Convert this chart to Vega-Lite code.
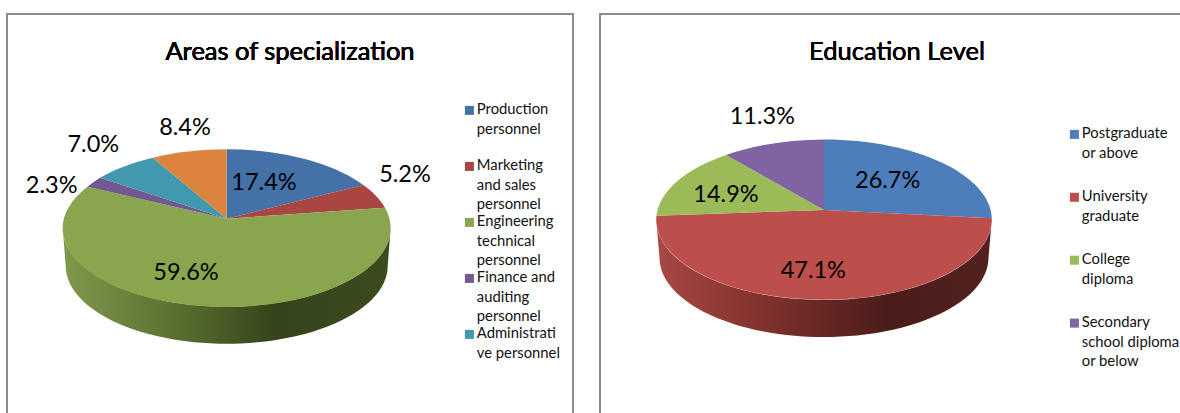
{
"$schema":"https://vega.github.io/schema/vega-lite/v6.json",
"padding":{"left":6,"top":13,"right":0,"bottom":0},
"spacing":25,
"background":"white",
"config":{"view":{"stroke":"#8c8c8c","strokeWidth":2},"text":{"font":"Lato","fontSize":23.5,"color":"#000000"},
"legend":{"orient":"none","symbolType":"square","symbolSize":81,"symbolStrokeWidth":0,"labelFont":"Lato","labelFontSize":14.8,"labelColor":"#111111","labelLimit":200,"labelOffset":0,"padding":0,"title":null,"symbolOpacity":1}},
"resolve":{"scale":{"color":"independent","shape":"independent","x":"independent","y":"independent"},"legend":{"color":"independent"}},
"hconcat":[
{"width":566,"height":410,
"data":{"values":[
{"slice":"Production personnel","part":"a","share":0.174},
{"slice":"Marketing and sales personnel","part":"b","share":0.052},
{"slice":"Engineering technical personnel","part":"c","share":0.596},
{"slice":"Finance and auditing personnel","part":"d","share":0.023},
{"slice":"Administrative personnel","part":"e","share":0.07},
{"slice":"Other personnel","part":"f","share":0.084}]},
"layer":[
{"transform":[{"filter":"datum.part==='c'"}],
"mark":{"type":"point","filled":true,"opacity":1,"size":4,"strokeWidth":0,"shape":"M164,9.3A164,78.7 0 0 1 -164,9.3L-161,47A161,78 0 0 0 161,47Z",
"fill":{"gradient":"linear","x1":0,"y1":0,"x2":1,"y2":0,"stops":[{"offset":0,"color":"#80994c"},{"offset":0.3,"color":"#5f7634"},{"offset":0.65,"color":"#35441a"},{"offset":1,"color":"#3c4a20"}]}},
"encoding":{"x":{"datum":219.7,"type":"quantitative","scale":{"domain":[0,566]},"axis":null},"y":{"datum":204.7,"type":"quantitative","scale":{"domain":[0,410],"reverse":true},"axis":null}}},
{"mark":{"type":"point","filled":true,"opacity":1,"size":4,"strokeWidth":0},
"encoding":{"x":{"datum":219.7,"type":"quantitative","scale":{"domain":[0,566]},"axis":null},"y":{"datum":204.7,"type":"quantitative","scale":{"domain":[0,410],"reverse":true},"axis":null},
"shape":{"field":"part","type":"nominal","legend":null,"scale":{"domain":["a","b","c","d","e","f"],
"range":["M0,0L0,-69.4A164,78.7 0 0 1 136.7,-33.7Z","M0,0L136.7,-33.7A164,78.7 0 0 1 158.3,-11Z","M0,0L158.3,-11A164,78.7 0 1 1 -139.3,-32Z","M0,0L-139.3,-32A164,78.7 0 0 1 -126.7,-41Z","M0,0L-126.7,-41A164,78.7 0 0 1 -74,-61Z","M0,0L-74,-61A164,78.7 0 0 1 0,-69.4Z"]}},
"color":{"field":"slice","type":"nominal","scale":{"domain":["Production personnel","Marketing and sales personnel","Engineering technical personnel","Finance and auditing personnel","Administrative personnel","Other personnel"],"range":["#4471a7","#a94642","#89a54e","#71588f","#4198af","#db843d"]},
"legend":{"values":["Production personnel","Marketing and sales personnel","Engineering technical personnel","Finance and auditing personnel","Administrative personnel"],"legendX":455,"legendY":89,"rowPadding":2,"symbolType":"square",
"labelExpr":"{'Production personnel':['Production','personnel',''],'Marketing and sales personnel':['Marketing','and sales','personnel'],'Engineering technical personnel':['Engineering','technical','personnel'],'Finance and auditing personnel':['Finance and','auditing','personnel'],'Administrative personnel':['Administrati','ve personnel','']}[datum.label]",
"encoding":{"labels":{"lineHeight":{"value":19.3}}}}}}},
{"mark":{"type":"text","fontSize":25.5},"encoding":{"text":{"value":"Areas of specialization"},"x":{"datum":283,"type":"quantitative","scale":{"domain":[0,566]},"axis":null},"y":{"datum":38,"type":"quantitative","scale":{"domain":[0,410],"reverse":true},"axis":null}}},
{"transform":[{"filter":"datum.part==='a'"}],"mark":"text","encoding":{"text":{"field":"share","format":".1%"},"x":{"datum":257,"type":"quantitative","scale":{"domain":[0,566]},"axis":null},"y":{"datum":168.7,"type":"quantitative","scale":{"domain":[0,410],"reverse":true},"axis":null}}},
{"transform":[{"filter":"datum.part==='b'"}],"mark":"text","encoding":{"text":{"field":"share","format":".1%"},"x":{"datum":398,"type":"quantitative","scale":{"domain":[0,566]},"axis":null},"y":{"datum":161.3,"type":"quantitative","scale":{"domain":[0,410],"reverse":true},"axis":null}}},
{"transform":[{"filter":"datum.part==='c'"}],"mark":"text","encoding":{"text":{"field":"share","format":".1%"},"x":{"datum":179,"type":"quantitative","scale":{"domain":[0,566]},"axis":null},"y":{"datum":259.3,"type":"quantitative","scale":{"domain":[0,410],"reverse":true},"axis":null}}},
{"transform":[{"filter":"datum.part==='d'"}],"mark":"text","encoding":{"text":{"field":"share","format":".1%"},"x":{"datum":44.7,"type":"quantitative","scale":{"domain":[0,566]},"axis":null},"y":{"datum":172,"type":"quantitative","scale":{"domain":[0,410],"reverse":true},"axis":null}}},
{"transform":[{"filter":"datum.part==='e'"}],"mark":"text","encoding":{"text":{"field":"share","format":".1%"},"x":{"datum":86.3,"type":"quantitative","scale":{"domain":[0,566]},"axis":null},"y":{"datum":131,"type":"quantitative","scale":{"domain":[0,410],"reverse":true},"axis":null}}},
{"transform":[{"filter":"datum.part==='f'"}],"mark":"text","encoding":{"text":{"field":"share","format":".1%"},"x":{"datum":178,"type":"quantitative","scale":{"domain":[0,566]},"axis":null},"y":{"datum":113.7,"type":"quantitative","scale":{"domain":[0,410],"reverse":true},"axis":null}}}
]},
{"width":600,"height":410,
"data":{"values":[
{"slice":"Postgraduate or above","part":"a","share":0.267},
{"slice":"University graduate","part":"b","share":0.471},
{"slice":"College diploma","part":"c","share":0.149},
{"slice":"Secondary school diploma or below","part":"d","share":0.113}]},
"layer":[
{"transform":[{"filter":"datum.part==='b'"}],
"mark":{"type":"point","filled":true,"opacity":1,"size":4,"strokeWidth":0,"shape":"M167.8,9.7A167.8,80.3 0 0 1 -167.8,9.7L-164.5,47.5A164.5,79.5 0 0 0 164.5,47.5Z",
"fill":{"gradient":"linear","x1":0,"y1":0,"x2":1,"y2":0,"stops":[{"offset":0,"color":"#a84845"},{"offset":0.3,"color":"#83332f"},{"offset":0.7,"color":"#4a1c1a"},{"offset":1,"color":"#53221f"}]}},
"encoding":{"x":{"datum":224,"type":"quantitative","scale":{"domain":[0,600]},"axis":null},"y":{"datum":196,"type":"quantitative","scale":{"domain":[0,410],"reverse":true},"axis":null}}},
{"mark":{"type":"point","filled":true,"opacity":1,"size":4,"strokeWidth":0},
"encoding":{"x":{"datum":224,"type":"quantitative","scale":{"domain":[0,600]},"axis":null},"y":{"datum":196,"type":"quantitative","scale":{"domain":[0,410],"reverse":true},"axis":null},
"shape":{"field":"part","type":"nominal","legend":null,"scale":{"domain":["a","b","c","d"],
"range":["M0,0L0,-70.6A167.8,80.3 0 0 1 167.8,8.3Z","M0,0L167.8,8.3A167.8,80.3 0 1 1 -167.6,5.7Z","M0,0L-167.6,5.7A167.8,80.3 0 0 1 -98,-55Z","M0,0L-98,-55A167.8,80.3 0 0 1 0,-70.6Z"]}},
"color":{"field":"slice","type":"nominal","scale":{"domain":["Postgraduate or above","University graduate","College diploma","Secondary school diploma or below"],"range":["#4d7ebb","#bc4e4b","#9bbb59","#8063a1"]},
"legend":{"legendX":467,"legendY":113,"rowPadding":7.9,"symbolType":"square",
"labelExpr":"{'Postgraduate or above':['Postgraduate','or above',''],'University graduate':['University','graduate',''],'College diploma':['College','diploma',''],'Secondary school diploma or below':['Secondary','school diploma','or below']}[datum.label]",
"encoding":{"labels":{"lineHeight":{"value":19.5}}}}}}},
{"mark":{"type":"text","fontSize":25.5},"encoding":{"text":{"value":"Education Level"},"x":{"datum":297,"type":"quantitative","scale":{"domain":[0,600]},"axis":null},"y":{"datum":38,"type":"quantitative","scale":{"domain":[0,410],"reverse":true},"axis":null}}},
{"transform":[{"filter":"datum.part==='a'"}],"mark":"text","encoding":{"text":{"field":"share","format":".1%"},"x":{"datum":287.7,"type":"quantitative","scale":{"domain":[0,600]},"axis":null},"y":{"datum":167,"type":"quantitative","scale":{"domain":[0,410],"reverse":true},"axis":null}}},
{"transform":[{"filter":"datum.part==='b'"}],"mark":"text","encoding":{"text":{"field":"share","format":".1%"},"x":{"datum":213.3,"type":"quantitative","scale":{"domain":[0,600]},"axis":null},"y":{"datum":257,"type":"quantitative","scale":{"domain":[0,410],"reverse":true},"axis":null}}},
{"transform":[{"filter":"datum.part==='c'"}],"mark":"text","encoding":{"text":{"field":"share","format":".1%"},"x":{"datum":126,"type":"quantitative","scale":{"domain":[0,600]},"axis":null},"y":{"datum":181,"type":"quantitative","scale":{"domain":[0,410],"reverse":true},"axis":null}}},
{"transform":[{"filter":"datum.part==='d'"}],"mark":"text","encoding":{"text":{"field":"share","format":".1%"},"x":{"datum":162.3,"type":"quantitative","scale":{"domain":[0,600]},"axis":null},"y":{"datum":103,"type":"quantitative","scale":{"domain":[0,410],"reverse":true},"axis":null}}}
]}
]}
